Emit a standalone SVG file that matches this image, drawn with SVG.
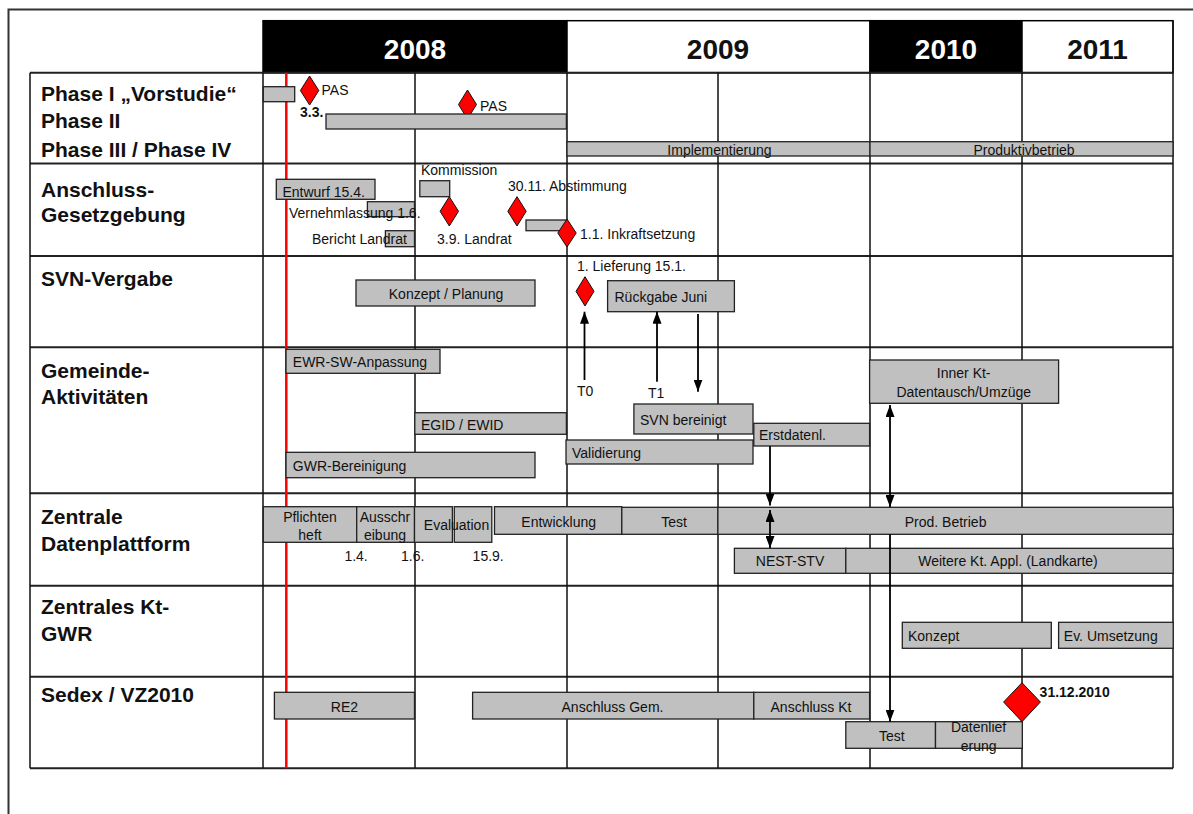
<svg xmlns="http://www.w3.org/2000/svg" width="1193" height="814" viewBox="0 0 1193 814">
<style>
text{font-family:"Liberation Sans",Arial,sans-serif;fill:#111}
.lbl{font-size:21px;font-weight:bold}
.yr{font-size:28px;font-weight:bold;text-anchor:middle}
.t{font-size:14px}
.tb{font-size:14px;font-weight:bold}
.c{text-anchor:middle}
.bar{fill:#c0c0c0;stroke:#222;stroke-width:1.3}
.ms{fill:#ff0000;stroke:#111;stroke-width:1}
.gr{stroke:#111;stroke-width:1.5;fill:none}
.rw{stroke:#222;stroke-width:2;fill:none}
.ar{stroke:#000;stroke-width:1.8;fill:none}
</style>
<defs>
<marker id="ah" viewBox="0 0 12 9" refX="12" refY="4.5" markerWidth="12" markerHeight="9" markerUnits="userSpaceOnUse" orient="auto-start-reverse">
<path d="M0,0 L12,4.5 L0,9 z" fill="#000"/>
</marker>
</defs>
<rect width="1193" height="814" fill="#fff"/>
<path d="M8.5,814 V9.5 H1193" fill="none" stroke="#333" stroke-width="2"/>

<g id="header">
<rect x="263" y="20.7" width="304" height="52" fill="#000" stroke="#000" stroke-width="1.5"/>
<rect x="567" y="20.7" width="303" height="52" fill="#fff" stroke="#000" stroke-width="1.5"/>
<rect x="870" y="20.7" width="152" height="52" fill="#000" stroke="#000" stroke-width="1.5"/>
<rect x="1022" y="20.7" width="151" height="52" fill="#fff" stroke="#000" stroke-width="1.5"/>
<text class="yr" x="415" y="58.5" style="fill:#fff">2008</text>
<text class="yr" x="718" y="58.5">2009</text>
<text class="yr" x="946" y="58.5" style="fill:#fff">2010</text>
<text class="yr" x="1097.5" y="58.5">2011</text>
</g>

<g id="grid">
<path class="rw" d="M30,72.7 H1173 M30,163.5 H1173 M30,256 H1173 M30,347.3 H1173 M30,493.3 H1173 M30,585.7 H1173 M30,676.7 H1173 M30,768.3 H1173"/>
<path class="gr" d="M30,72.7 V768.3 M263,72.7 V768.3 M415,72.7 V768.3 M567,72.7 V768.3 M718,72.7 V768.3 M870,72.7 V768.3 M1022,72.7 V768.3 M1173,20.7 V768.3"/>
</g>

<g id="row-labels">
<text class="lbl" x="41" y="100.5">Phase I „Vorstudie“</text>
<text class="lbl" x="41" y="128.3">Phase II</text>
<text class="lbl" x="41" y="156.5">Phase III / Phase IV</text>
<text class="lbl" x="41" y="197.3">Anschluss-</text>
<text class="lbl" x="41" y="222">Gesetzgebung</text>
<text class="lbl" x="41" y="286">SVN-Vergabe</text>
<text class="lbl" x="41" y="378">Gemeinde-</text>
<text class="lbl" x="41" y="404">Aktivitäten</text>
<text class="lbl" x="41" y="524">Zentrale</text>
<text class="lbl" x="41" y="551">Datenplattform</text>
<text class="lbl" x="41" y="614">Zentrales Kt-</text>
<text class="lbl" x="41" y="641">GWR</text>
<text class="lbl" x="41" y="702">Sedex / VZ2010</text>
</g>

<line id="today" x1="286.3" y1="72.7" x2="286.3" y2="768.3" stroke="#ff0000" stroke-width="2.5"/>

<g id="phase-bars">
<rect class="bar" x="263.3" y="86.7" width="31.4" height="15"/>
<g id="ms-pas1"><path class="ms" d="M309.6,76 L318.8,90.5 L309.6,105 L300.4,90.5 Z"/><text class="t" x="321.5" y="95">PAS</text></g>
<text class="tb" x="300" y="117">3.3.</text>
<g id="ms-pas2"><path class="ms" d="M467.5,90 L476.5,104.5 L467.5,119 L458.5,104.5 Z"/><text class="t" x="480" y="111">PAS</text></g>
<rect class="bar" x="326" y="114" width="240.4" height="15"/>
<g id="impl"><rect class="bar" x="567" y="141.7" width="303" height="14.3"/><text class="t c" x="719.5" y="154.5">Implementierung</text></g>
<g id="prodbetrieb"><rect class="bar" x="870" y="141.7" width="303" height="14.3"/><text class="t c" x="1024" y="154.5">Produktivbetrieb</text></g>
</g>

<g id="gesetzgebung">
<g id="entwurf"><rect class="bar" x="276.3" y="179.3" width="98.7" height="20"/><text class="t" x="282.4" y="196.5">Entwurf 15.4.</text></g>
<g id="vernehm"><rect class="bar" x="367.4" y="201.7" width="47.1" height="15"/><text class="t" x="289" y="217.5">Vernehmlassung 1.6.</text></g>
<g id="bericht"><rect class="bar" x="385.4" y="230.7" width="29.1" height="16"/><text class="t" x="312" y="244">Bericht Landrat</text></g>
<g id="kommission"><rect class="bar" x="419.8" y="180.7" width="29.9" height="16"/><text class="t" x="421" y="175">Kommission</text></g>
<g id="ms-landrat"><path class="ms" d="M449.3,196.7 L458.5,211.3 L449.3,226 L440.1,211.3 Z"/><text class="t" x="437" y="244">3.9. Landrat</text></g>
<g id="ms-abst"><path class="ms" d="M517,196.7 L526.2,211.3 L517,226 L507.8,211.3 Z"/><text class="t" x="508" y="191">30.11. Abstimmung</text></g>
<rect id="bar-abst" class="bar" x="526" y="220" width="40.4" height="10.7"/>
<g id="ms-inkraft"><path class="ms" d="M567,219 L576.2,233 L567,247 L557.8,233 Z"/><text class="t" x="580" y="239">1.1. Inkraftsetzung</text></g>
</g>

<g id="svn">
<g id="konzept-planung"><rect class="bar" x="356" y="280" width="179" height="26"/><text class="t c" x="446" y="299">Konzept / Planung</text></g>
<g id="ms-lieferung"><path class="ms" d="M585,276.7 L594,291.3 L585,306 L576,291.3 Z"/><text class="t" x="577" y="271">1. Lieferung 15.1.</text></g>
<g id="rueckgabe"><rect class="bar" x="607.6" y="280.7" width="126.8" height="31"/><text class="t" x="614.5" y="301.5">Rückgabe Juni</text></g>
<text class="t" x="577" y="395.5">T0</text>
<text class="t" x="648" y="397.5">T1</text>
</g>

<g id="gemeinde">
<g id="ewr"><rect class="bar" x="286" y="349.3" width="154" height="24"/><text class="t" x="292.8" y="367">EWR-SW-Anpassung</text></g>
<g id="egid"><rect class="bar" x="414.8" y="412.7" width="151.6" height="21.6"/><text class="t" x="421" y="430">EGID / EWID</text></g>
<g id="gwr-ber"><rect class="bar" x="286" y="452.3" width="249" height="25.4"/><text class="t" x="292.8" y="470.5">GWR-Bereinigung</text></g>
<g id="svn-ber"><rect class="bar" x="633.9" y="404" width="119.1" height="30"/><text class="t" x="640" y="425">SVN bereinigt</text></g>
<g id="erstdatenl"><rect class="bar" x="753.8" y="423.3" width="115.8" height="22.7"/><text class="t" x="759" y="440">Erstdatenl.</text></g>
<g id="validierung"><rect class="bar" x="566" y="440" width="187" height="24"/><text class="t" x="572" y="458">Validierung</text></g>
<g id="innerkt"><rect class="bar" x="869.6" y="360" width="189" height="43.3"/><text class="t c" x="963.7" y="378">Inner Kt-</text><text class="t c" x="963.7" y="396.5">Datentausch/Umzüge</text></g>
</g>

<g id="datenplattform">
<g id="pflichten"><rect class="bar" x="263.3" y="506.7" width="93.4" height="35.6"/><text class="t c" x="310" y="521.5">Pflichten</text><text class="t c" x="310" y="540">heft</text></g>
<g id="ausschr"><rect class="bar" x="356.7" y="506.7" width="57.8" height="35.6"/><text class="t c" x="385" y="521.5">Ausschr</text><text class="t c" x="385" y="540">eibung</text></g>
<g id="evaluation"><rect class="bar" x="414.5" y="506.7" width="37.9" height="35.6"/><rect class="bar" x="454.3" y="506.7" width="37.5" height="35.6"/><text class="t c" x="456.5" y="530">Evaluation</text></g>
<g id="entwicklung"><rect class="bar" x="494.5" y="506.7" width="127.3" height="27.6"/><text class="t c" x="558.7" y="527">Entwicklung</text></g>
<g id="test1"><rect class="bar" x="621.8" y="507.3" width="96.1" height="27"/><text class="t c" x="674" y="527">Test</text></g>
<g id="prod"><rect class="bar" x="717.9" y="507.3" width="455.3" height="27"/><text class="t c" x="945.6" y="527">Prod. Betrieb</text></g>
<g id="nest"><rect class="bar" x="734.4" y="548.3" width="111.4" height="25"/><text class="t c" x="790" y="566">NEST-STV</text></g>
<g id="weitere"><rect class="bar" x="845.8" y="548.3" width="327.4" height="25"/><text class="t c" x="1008" y="566">Weitere Kt. Appl. (Landkarte)</text></g>
<text class="t" x="344.4" y="560.5">1.4.</text>
<text class="t" x="401" y="560.5">1.6.</text>
<text class="t" x="472.6" y="560.5">15.9.</text>
</g>

<g id="kt-gwr">
<g id="konzept"><rect class="bar" x="902.3" y="622.3" width="149" height="26"/><text class="t" x="908" y="640.5">Konzept</text></g>
<g id="evums"><rect class="bar" x="1058.6" y="622.3" width="114.6" height="26"/><text class="t" x="1063.8" y="640.5">Ev. Umsetzung</text></g>
</g>

<g id="sedex">
<g id="re2"><rect class="bar" x="274.4" y="692.3" width="140.1" height="26.7"/><text class="t c" x="344.4" y="711.5">RE2</text></g>
<g id="anschgem"><rect class="bar" x="472.6" y="692.3" width="281.2" height="26.7"/><text class="t c" x="612.5" y="711.5">Anschluss Gem.</text></g>
<g id="anschkt"><rect class="bar" x="753.8" y="692.3" width="115.8" height="26.7"/><text class="t c" x="811" y="711.5">Anschluss Kt</text></g>
<g id="test2"><rect class="bar" x="845.8" y="721.7" width="89.7" height="26.6"/><text class="t c" x="891.8" y="741">Test</text></g>
<g id="datenlief"><rect class="bar" x="935.5" y="721.7" width="86.8" height="26.6"/><text class="t c" x="978.6" y="732">Datenlief</text><text class="t c" x="978.6" y="751">erung</text></g>
<g id="ms-vz"><path class="ms" d="M1022,682.7 L1040.4,702 L1022,721.7 L1003.6,702 Z"/><text class="tb" x="1039.6" y="696.5">31.12.2010</text></g>
</g>

<g id="connectors">
<line class="ar" x1="584.5" y1="380" x2="584.5" y2="311.7" marker-end="url(#ah)"/>
<line class="ar" x1="657" y1="381.7" x2="657" y2="311.7" marker-end="url(#ah)"/>
<line class="ar" x1="698" y1="314" x2="698" y2="391.7" marker-end="url(#ah)"/>
<line class="ar" x1="770" y1="446" x2="770" y2="505.5" marker-end="url(#ah)"/>
<line class="ar" x1="770" y1="510" x2="770" y2="548" marker-start="url(#ah)" marker-end="url(#ah)"/>
<line class="ar" x1="890" y1="405" x2="890" y2="507" marker-start="url(#ah)" marker-end="url(#ah)"/>
<line class="ar" x1="890" y1="534.3" x2="890" y2="721.7" marker-end="url(#ah)"/>
</g>
</svg>
